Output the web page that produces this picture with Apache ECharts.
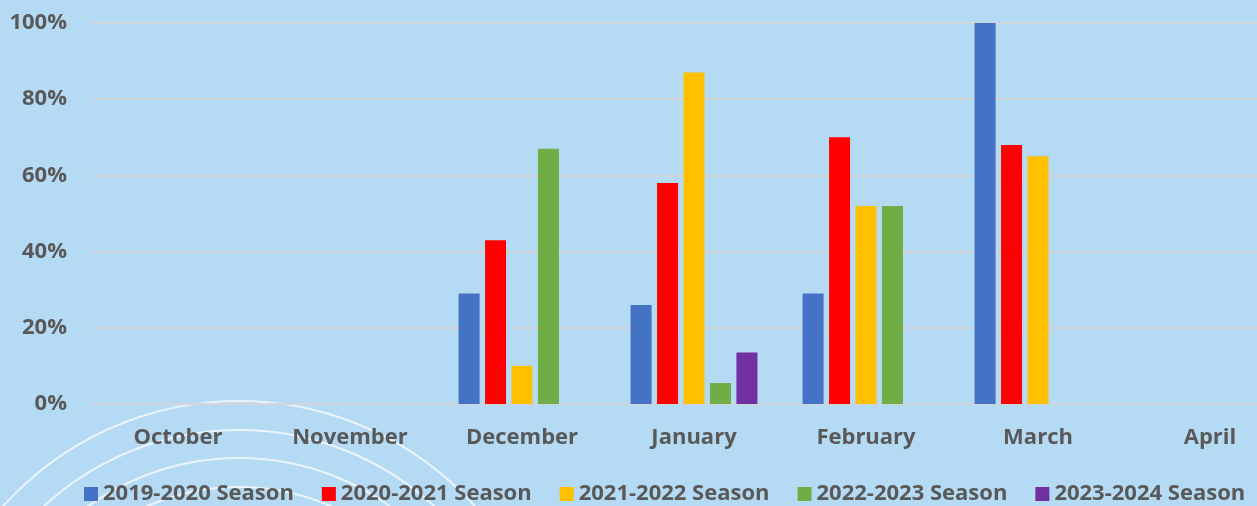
<!DOCTYPE html>
<html>
<head>
    <meta http-equiv="Content-type" content="text/html; charset=utf-8" />
    <title></title>
    <script src="https://cdn.jsdelivr.net/npm/echarts@6/dist/echarts.min.js"></script>
    <style>
    html, body { margin: 0; padding: 0; overflow: hidden; background: #B5DAF4; }
    /* the original chart is cut off on the right, so the canvas is wider than the window */
    #main { width: 1296px; height: 506px; }
    </style>
</head>
<body>
    <div id="main"></div>
    <script type="text/javascript">
        // months on the x axis
        var months = ['October', 'November', 'December', 'January', 'February', 'March', 'April'];
        var seasons = ['2019-2020 Season', '2020-2021 Season', '2021-2022 Season', '2022-2023 Season', '2023-2024 Season'];
        var colors = ['#4472C4', '#FF0000', '#FFC000', '#70AD47', '#7030A0'];
        // percent values per season (null = no bar)
        var s2019 = [null, null, 29, 26, 29, 100, null];
        var s2020 = [null, null, 43, 58, 70, 68, null];
        var s2021 = [null, null, 10, 87, 52, 65, null];
        var s2022 = [null, null, 67, 5.5, 52, null, null];
        var s2023 = [null, null, null, 13.5, null, null, null];
        var seasonValues = [s2019, s2020, s2021, s2022, s2023];
        var yTicks = [0, 20, 40, 60, 80, 100];

        var textColor = '#595959';
        var fontFam = '"Open Sans", sans-serif';

        var series = seasons.map(function (name, i) {
            return {
                name: name,
                type: 'bar',
                data: seasonValues[i],
                barWidth: 21,
                barGap: '26%',
                itemStyle: { color: colors[i] },
                z: 3
            };
        });

        // decorative white rings in the lower left
        var rings = [317, 288, 260, 231].map(function (r) {
            return {
                type: 'circle',
                shape: { cx: 239, cy: 718, r: r },
                style: { fill: 'none', stroke: 'rgba(255,255,255,0.7)', lineWidth: 2 },
                z: -10,
                silent: true
            };
        });

        var myChart = echarts.init(document.getElementById('main'));
        myChart.setOption({
            backgroundColor: '#B5DAF4',
            animation: false,
            graphic: rings,
            grid: { left: 92, top: 23, right: 0, height: 381 },
            legend: {
                data: seasons,
                left: 84,
                top: 483,
                padding: 0,
                icon: 'rect',
                itemWidth: 14,
                itemHeight: 14,
                itemGap: 28,
                textStyle: { color: textColor, fontFamily: fontFam, fontWeight: 'bold', fontSize: 22 }
            },
            xAxis: {
                type: 'category',
                data: months,
                axisLine: { show: false },
                axisTick: { show: false },
                axisLabel: { color: textColor, fontFamily: fontFam, fontWeight: 'bold', fontSize: 22, margin: 23 }
            },
            yAxis: {
                type: 'value',
                min: yTicks[0],
                max: yTicks[yTicks.length - 1],
                interval: 20,
                axisLine: { show: false },
                axisTick: { show: false },
                splitLine: { lineStyle: { color: '#D2D6DA', width: 2 } },
                axisLabel: { color: textColor, fontFamily: fontFam, fontWeight: 'bold', fontSize: 22, margin: 25, formatter: '{value}%' }
            },
            series: series
        });
    </script>
</body>
</html>
